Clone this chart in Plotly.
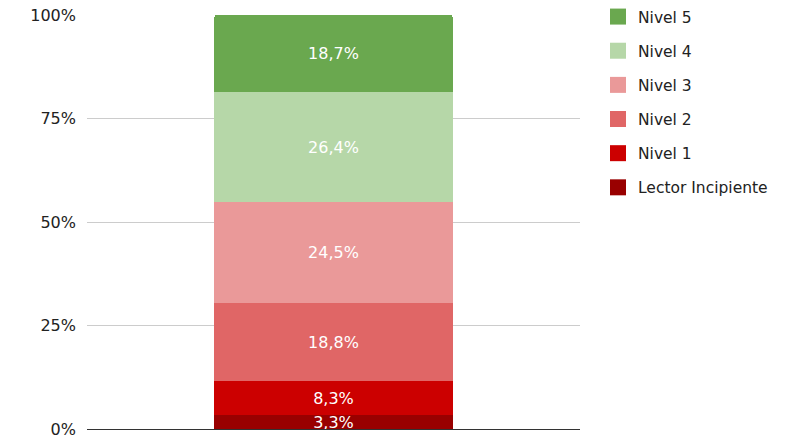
import plotly.graph_objects as go

categories = ["Total"]
series_names = ["Lector Incipiente", "Nivel 1", "Nivel 2", "Nivel 3", "Nivel 4", "Nivel 5"]
series_values = [3.3, 8.3, 18.8, 24.5, 26.4, 18.7]
colors = ["#990000", "#cc0000", "#e06666", "#ea9999", "#b6d7a8", "#6aa84f"]
tick_vals = [0, 25, 50, 75, 100]
tick_labels = ["0%", "25%", "50%", "75%", "100%"]

FONT = "DejaVu Sans"
fig = go.Figure()
for name, val, col in zip(series_names, series_values, colors):
    fig.add_trace(go.Bar(
        x=categories, y=[val], name=name, marker=dict(color=col, line=dict(width=0)),
        text=[f"{val:.1f}".replace(".", ",") + "%"], textposition="inside",
        insidetextanchor="middle", constraintext="none",
        textfont=dict(color="white", size=16, family=FONT),
        width=0.483, showlegend=False,
    ))
# legend entries (top to bottom)
for i, (name, col) in enumerate(reversed(list(zip(series_names, colors)))):
    fig.add_trace(go.Scatter(
        x=[None], y=[None], mode="markers", name=name,
        marker=dict(symbol="square", size=16, color=col),
        legendgroup=f"g{i}", showlegend=True,
    ))

fig.update_layout(
    width=790, height=444,
    margin=dict(l=87, r=210, t=15, b=15, autoexpand=False),
    barmode="stack", barcornerradius=2,
    plot_bgcolor="white", paper_bgcolor="white",
    font=dict(family=FONT, size=16, color="#222"),
    uniformtext=dict(minsize=16, mode="show"),
    showlegend=True,
    legend=dict(xref="container", yref="container", x=598 / 790, xanchor="left",
                y=1.0, yanchor="top",
                traceorder="grouped", tracegroupgap=11, itemsizing="trace",
                font=dict(size=15.5, family=FONT, color="#222"),
                bgcolor="rgba(0,0,0,0)"),
    xaxis=dict(range=[-0.5, 0.5], showticklabels=False, showgrid=False,
               showline=True, linecolor="#333", linewidth=1, zeroline=False,
               fixedrange=True),
    yaxis=dict(range=[0, 100], tickvals=tick_vals, ticktext=tick_labels,
               showgrid=True, gridcolor="#cccccc", gridwidth=1, zeroline=False,
               showline=False, ticks="", ticklabelstandoff=10),
)
fig.write_html("out.html")
